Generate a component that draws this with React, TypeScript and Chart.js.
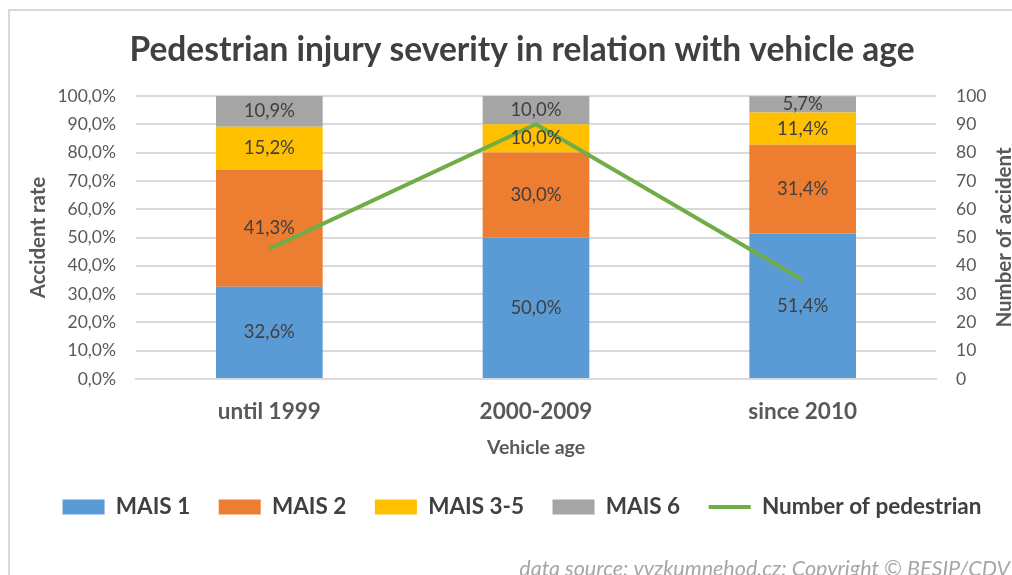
import React, { useEffect, useRef } from "react";
import { Chart, registerables } from "chart.js";

Chart.register(...registerables);

const categories = ["until 1999", "2000-2009", "since 2010"];
const mais1 = [32.6, 50.0, 51.4];
const mais2 = [41.3, 30.0, 31.4];
const mais35 = [15.2, 10.0, 11.4];
const mais6 = [10.9, 10.0, 5.7];
const pedestrians = [46, 90, 35];
const seriesNames = ["MAIS 1", "MAIS 2", "MAIS 3-5", "MAIS 6", "Number of pedestrian"];
const titleText = "Pedestrian injury severity in relation with vehicle age";
const leftTitle = "Accident rate";
const rightTitle = "Number of accident";
const xTitle = "Vehicle age";
const footerText = "data source: vyzkumnehod.cz; Copyright © BESIP/CDV";

const FONT = "Lato, 'Open Sans', sans-serif";
const TEXT = "#404040";
const TICK = "#595959";

const fmt = (v: number) => v.toFixed(1).replace(".", ",") + "%";

const labelPlugin = {
  id: "segLabels",
  afterDatasetsDraw(chart: any) {
    const ctx = chart.ctx;
    ctx.save();
    ctx.font = `18.5px ${FONT}`;
    ctx.fillStyle = TEXT;
    ctx.textAlign = "center";
    ctx.textBaseline = "middle";
    chart.data.datasets.forEach((ds: any, i: number) => {
      if (ds.type === "line") return;
      const meta = chart.getDatasetMeta(i);
      meta.data.forEach((bar: any, j: number) => {
        const y = (bar.y + bar.base) / 2;
        ctx.fillText(fmt(ds.data[j]), bar.x, y);
      });
    });
    ctx.restore();
  },
};

const extrasPlugin = {
  id: "extras",
  beforeDraw(chart: any) {
    const ctx = chart.ctx;
    ctx.save();
    ctx.strokeStyle = "#d9d9d9";
    ctx.lineWidth = 2;
    ctx.beginPath();
    ctx.moveTo(9, 2000);
    ctx.lineTo(9, 10);
    ctx.lineTo(2000, 10);
    ctx.stroke();
    ctx.restore();
  },
  afterDraw(chart: any) {
    const ctx = chart.ctx;
    const area = chart.chartArea;
    ctx.save();
    ctx.font = `bold 20.5px ${FONT}`;
    ctx.fillStyle = TICK;
    ctx.textAlign = "center";
    ctx.textBaseline = "middle";
    ctx.translate(1004, (area.top + area.bottom) / 2);
    ctx.rotate(-Math.PI / 2);
    ctx.fillText(rightTitle, 0, 0);
    ctx.restore();
    ctx.save();
    ctx.font = `italic 21.5px ${FONT}`;
    ctx.fillStyle = "#a6a6a6";
    ctx.textAlign = "right";
    ctx.textBaseline = "middle";
    ctx.fillText(footerText, 1010, 569);
    ctx.restore();
  },
};

export default function App() {
  const ref = useRef<HTMLCanvasElement | null>(null);
  useEffect(() => {
    if (!ref.current) return;
    const barDs = (label: string, data: number[], color: string) => ({
      type: "bar" as const,
      label,
      data,
      backgroundColor: color,
      borderWidth: 0,
      yAxisID: "y",
      order: 1,
      barPercentage: 0.8,
      categoryPercentage: 0.5,
      pointStyle: "rect",
    });
    const chart = new Chart(ref.current, {
      type: "bar",
      data: {
        labels: categories,
        datasets: [
          barDs(seriesNames[0], mais1, "#5B9BD5"),
          barDs(seriesNames[1], mais2, "#ED7D31"),
          barDs(seriesNames[2], mais35, "#FFC000"),
          barDs(seriesNames[3], mais6, "#A5A5A5"),
          {
            type: "line" as const,
            label: seriesNames[4],
            data: pedestrians,
            borderColor: "#70AD47",
            backgroundColor: "#70AD47",
            borderWidth: 4,
            pointRadius: 0,
            pointStyle: "line",
            yAxisID: "y1",
            order: 0,
            tension: 0,
          } as any,
        ],
      },
      options: {
        animation: false,
        responsive: false,
        maintainAspectRatio: false,
        layout: { padding: { left: 32, right: 0, top: 0, bottom: 46.75 } },
        plugins: {
          tooltip: { enabled: false },
          title: {
            display: true,
            text: titleText,
            color: TEXT,
            font: { family: FONT, size: 33.5, weight: "bold" },
            padding: { top: 30, bottom: 25.8 },
          },
          legend: {
            display: true,
            position: "bottom",
            labels: {
              usePointStyle: true,
              pointStyleWidth: 42,
              boxHeight: 15,
              padding: 28.5,
              color: TEXT,
              font: { family: FONT, size: 22.5, weight: "bold" },
              sort: (a: any, b: any) => a.datasetIndex - b.datasetIndex,
            },
          },
        },
        scales: {
          x: {
            stacked: true,
            afterFit(scale: any) {
              scale.height = 88.25;
            },
            grid: { display: false, drawTicks: false },
            border: { display: true, color: "#d9d9d9", width: 2 },
            ticks: {
              color: TICK,
              padding: 19.5,
              font: { family: FONT, size: 22.5, weight: "bold" },
            },
            title: {
              display: true,
              text: xTitle,
              color: TICK,
              font: { family: FONT, size: 19.5, weight: "bold" },
              padding: { top: 0, bottom: 8 },
            },
          },
          y: {
            stacked: true,
            position: "left",
            min: 0,
            max: 100,
            afterFit(scale: any) {
              scale.width = 104;
            },
            grid: { color: "#d9d9d9", lineWidth: 2, drawTicks: false },
            border: { display: false },
            ticks: {
              stepSize: 10,
              autoSkip: false,
              color: TICK,
              padding: 20,
              font: { family: FONT, size: 17.5 },
              callback: (v: any) => fmt(Number(v)),
            },
            title: {
              display: true,
              text: leftTitle,
              color: TICK,
              font: { family: FONT, size: 20.5, weight: "bold" },
              padding: { top: -6, bottom: 0 },
            },
          },
          y1: {
            position: "right",
            min: 0,
            max: 100,
            afterFit(scale: any) {
              scale.width = 76;
            },
            grid: { display: false, drawTicks: false },
            border: { display: false },
            ticks: {
              stepSize: 10,
              autoSkip: false,
              color: TICK,
              padding: 20,
              font: { family: FONT, size: 17.5 },
            },
          },
        },
      },
      plugins: [labelPlugin, extrasPlugin],
    });
    return () => chart.destroy();
  }, []);
  return (
    <div
      style={{
        position: "absolute",
        left: 0,
        top: 0,
        width: 1012,
        height: 575,
        overflow: "hidden",
        background: "#fff",
      }}
    >
      <canvas ref={ref} width={1012} height={575} style={{ width: 1012, height: 575, display: "block" }} />
    </div>
  );
}
